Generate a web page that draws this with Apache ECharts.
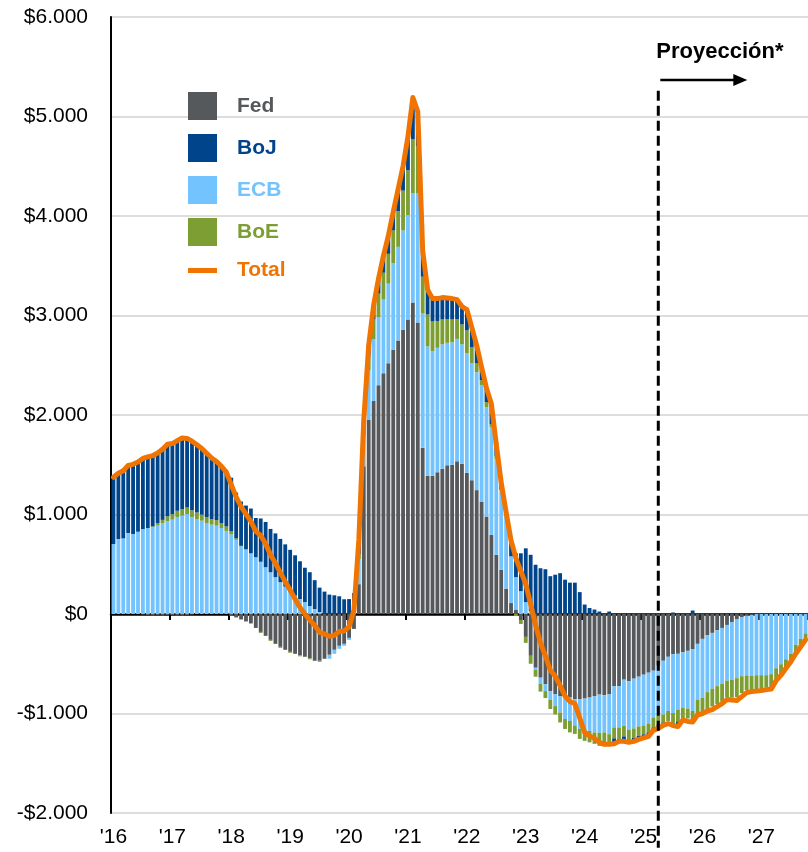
<!DOCTYPE html>
<html><head><meta charset="utf-8">
<script src="https://cdn.jsdelivr.net/npm/echarts@6/dist/echarts.min.js"></script>
<style>html,body{margin:0;padding:0;background:#fff}#chart{width:808px;height:852px}</style>
</head><body><div id="chart"></div>
<script>
// tick labels (years) and monthly categories Jan 2016 .. Oct 2027
const yearLabels = ["'16","'17","'18","'19","'20","'21","'22","'23","'24","'25","'26","'27"];
const monthsPerYear = [12,12,12,12,12,12,12,12,12,12,12,10];
const categories = [];
yearLabels.forEach((y, k) => {
  for (let m = 1; m <= monthsPerYear[k]; m++) categories.push((2016 + k) + '-' + String(m).padStart(2, '0'));
});
const projectionStart = '2025-04';
const projectionLineTop = 5260;     // value where the dashed line starts
const projectionLineBottom = -2350; // value where it ends (below the axis)

// USD bn, year-over-year change
const fed = [
0,0,0,0,0,0,-5,-10,-15,-10,-15,-10,
-10,-15,-15,-10,-5,0,0,0,0,0,0,0,
-20,-35,-55,-75,-95,-140,-180,-220,-260,-300,-330,-360,
-380,-400,-415,-430,-445,-470,-470,-450,-410,-360,-320,-300,
-240,-150,300,1485,1950,2140,2300,2420,2520,2655,2750,2855,
2960,3130,2930,1670,1390,1390,1425,1460,1495,1500,1535,1510,
1420,1345,1245,1130,980,795,595,445,255,110,40,-60,
-230,-420,-540,-640,-705,-775,-805,-825,-840,-840,-855,-855,
-850,-840,-825,-810,-815,-808,-725,-725,-660,-675,-650,-630,
-610,-590,-570,-520,-470,-430,-405,-400,-385,-370,-355,-300,
-250,-215,-190,-165,-140,-110,-80,-55,-35,-17,-10,0,
0,0,0,0,0,0,0,0,0,0];
const ecb = [
703,754,760,814,804,827,854,864,871,888,911,931,
948,972,988,1005,972,955,938,915,898,888,864,835,
800,745,680,650,610,570,525,470,420,370,320,275,
220,185,150,120,80,50,20,0,-40,-40,-30,-20,
-20,80,250,300,500,620,680,740,800,870,940,1000,
1050,1100,1300,1350,1300,1250,1250,1250,1230,1230,1230,1200,
1200,1175,1185,1170,1100,1085,965,805,745,470,330,230,
120,30,-20,-60,-70,-85,-120,-165,-215,-235,-265,-300,
-325,-335,-365,-385,-375,-400,-415,-415,-465,-490,-500,-500,
-510,-510,-470,-500,-540,-545,-590,-560,-560,-580,-620,-560,
-590,-570,-560,-560,-560,-560,-580,-590,-590,-600,-610,-615,
-615,-615,-605,-545,-505,-455,-400,-310,-250,-195];
const boe = [
0,0,0,0,0,0,0,0,10,25,35,50,
55,65,65,65,70,65,60,60,55,55,50,45,
30,15,5,0,0,0,-10,0,-10,0,-10,0,
-10,0,-10,0,-10,0,-10,0,0,0,0,0,
0,0,50,100,150,200,240,270,300,330,360,400,
450,540,470,370,320,300,270,250,240,230,200,200,
230,160,90,50,50,30,30,0,0,0,-20,-40,
-60,-80,-70,-80,-70,-95,-85,-100,-100,-115,-85,-100,
-100,-115,-115,-130,-135,-120,-110,-115,-105,-100,-95,-95,
-90,-90,-100,-90,-80,-100,-110,-120,-100,-100,-120,-150,
-140,-170,-180,-180,-180,-170,-180,-190,-170,-150,-150,-140,
-140,-125,-130,-115,-100,-90,-85,-85,-80,-65];
const boj = [
671,660,680,680,700,700,715,725,725,715,725,735,
720,720,730,705,700,680,665,640,615,590,570,545,
540,460,445,440,450,395,435,455,435,440,435,425,
425,405,380,345,340,290,245,225,195,188,178,148,
150,130,100,80,100,140,150,170,180,185,220,245,
340,420,350,260,250,230,225,220,210,210,195,180,
200,170,170,130,140,200,140,80,50,170,240,380,
540,565,495,460,450,380,395,410,345,315,315,220,
95,60,45,25,10,25,-50,-20,-40,-40,-50,-50,
-40,-40,-20,-20,-30,0,15,-30,0,0,35,10,
0,0,0,0,0,0,0,0,0,0,0,0,
0,0,0,0,0,0,0,0,0,0];
const total = [
1374,1414,1440,1494,1504,1527,1564,1579,1591,1618,1656,1706,
1713,1742,1768,1765,1737,1700,1663,1615,1568,1533,1484,1425,
1300,1175,1080,1005,930,830,790,705,595,510,415,325,
240,150,65,0,-60,-115,-185,-200,-225,-215,-175,-170,
-130,40,750,1950,2700,3100,3370,3600,3800,4040,4270,4500,
4800,5190,5050,3650,3260,3170,3170,3180,3175,3170,3160,3090,
3060,2880,2700,2480,2270,2110,1700,1320,1020,740,560,430,
300,100,-110,-290,-420,-565,-625,-720,-825,-880,-900,-1045,
-1190,-1225,-1250,-1290,-1310,-1310,-1305,-1280,-1280,-1290,-1280,-1260,
-1245,-1230,-1170,-1150,-1120,-1100,-1120,-1130,-1065,-1080,-1085,-1015,
-1000,-975,-960,-930,-900,-860,-865,-870,-830,-790,-780,-775,
-770,-760,-755,-670,-615,-545,-480,-400,-330,-260];

const colors = {Fed:'#56595C', BoJ:'#00458B', ECB:'#73C3FE', BoE:'#7C9E32', Total:'#EF7402'};
const FONT = '"Liberation Sans", Arial, sans-serif';

const chart = echarts.init(document.getElementById('chart'), null, {renderer:'canvas'});
const yearStart = (i) => i % 12 === 0;
function bar(name, data) {
  return {name, type:'bar', stack:'cb', data, barCategoryGap:'22%',
    itemStyle:{color:colors[name]}, emphasis:{disabled:true}};
}
const option = {
  animation:false,
  backgroundColor:'#fff',
  grid:{left:111, right:0, top:17, bottom:39},
  legend:{
    orient:'vertical', left:183, top:87, itemWidth:29, itemHeight:28, itemGap:14,
    selectedMode:false,
    data:['Fed','BoJ','ECB','BoE','Total'].map(n => ({name:n, textStyle:{color:colors[n]},
      icon: n === 'Total' ? 'path://M0,0H40V7H0Z' : 'rect'})),
    textStyle:{fontFamily:FONT, fontSize:21, fontWeight:'bold', padding:[0,0,0,15]}
  },
  xAxis:[
    {type:'category', data:categories, position:'bottom',
     axisLine:{show:false, onZero:false}, axisTick:{show:false}, splitLine:{show:false},
     axisLabel:{interval:(i)=>yearStart(i), formatter:(v)=>"'" + v.slice(2,4),
       color:'#000', fontSize:21, fontFamily:FONT, margin:14}},
    {type:'category', data:categories, position:'bottom',
     axisLine:{show:true, onZero:true, lineStyle:{color:'#000', width:2.5}},
     axisTick:{show:true, interval:(i)=>yearStart(i), length:6, lineStyle:{color:'#000', width:2}},
     axisLabel:{show:false}, splitLine:{show:false}}
  ],
  yAxis:{type:'value', min:-2000, max:6000, interval:1000,
    axisLine:{show:true, lineStyle:{color:'#000', width:2}}, axisTick:{show:false},
    axisLabel:{color:'#000', fontSize:21, fontFamily:FONT, margin:23,
      formatter:(v)=> v === 0 ? '$0' : (v < 0 ? '-' : '') + '$' + (Math.abs(v)/1000).toFixed(3)},
    splitLine:{lineStyle:{color:'#d2d2d2', width:1.5}}},
  series:[
    bar('Fed', fed), bar('ECB', ecb), bar('BoE', boe), bar('BoJ', boj),
    {name:'Total', type:'line', data:total, symbol:'none', z:5,
     lineStyle:{color:colors.Total, width:5, cap:'round', join:'round'},
     itemStyle:{color:colors.Total}, emphasis:{disabled:true}}
  ]
};
chart.setOption(option);

// dashed projection line, positioned through the axes
const px = chart.convertToPixel({xAxisIndex:0}, projectionStart);
const pyTop = chart.convertToPixel({yAxisIndex:0}, projectionLineTop);
const pyBot = chart.convertToPixel({yAxisIndex:0}, projectionLineBottom);
chart.setOption({
  graphic:[
    {type:'line', z:10, shape:{x1:px, y1:pyTop, x2:px, y2:pyBot},
     style:{stroke:'#000', lineWidth:3, lineDash:[10,5]}},
    {type:'text', z:10, left:px - 2, top:41, style:{text:'Proyección*', fill:'#000', font:'bold 22px ' + FONT}},
    {type:'line', z:10, shape:{x1:px + 2, y1:80, x2:px + 78, y2:80}, style:{stroke:'#000', lineWidth:2.5}},
    {type:'polygon', z:10, shape:{points:[[px + 75,74],[px + 89,80],[px + 75,86]]}, style:{fill:'#000'}}
  ]
});
</script></body></html>
